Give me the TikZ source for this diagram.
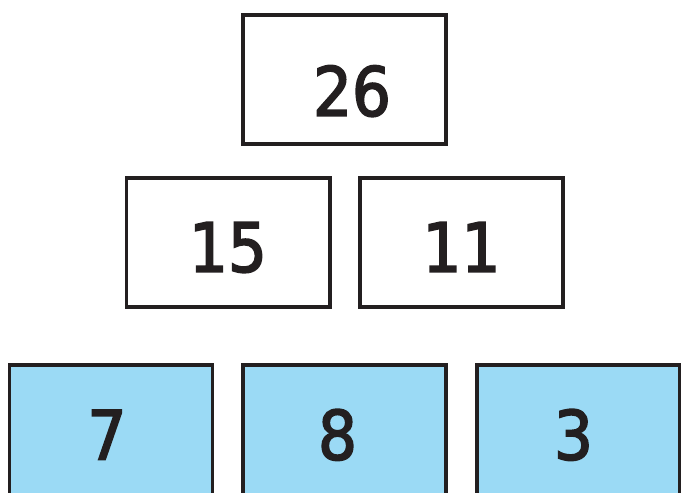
\documentclass[tikz,border=0pt]{standalone}
\usepackage{fontspec}
\setmainfont{DejaVu Sans}
\newfontfamily\digitfont{DejaVu Sans Condensed}[FakeBold=2.5]
\definecolor{boxline}{RGB}{35,31,32}
\definecolor{leafblue}{RGB}{155,218,245}

\begin{document}
\begin{tikzpicture}[
  x=0.03cm, y=-0.03cm,
  every node/.style={draw=boxline, rectangle, line width=3.4pt,
  minimum width=6.09cm, minimum height=3.87cm, inner sep=0pt,
  text=boxline, text height=50pt, text depth=0pt,
  font=\fontsize{58}{60}\digitfont},
  leaf/.style={fill=leafblue, minimum height=4.2cm, text height=42pt}
]
\clip (0,0) rectangle (681,492);
\node[text height=62pt] (root) at (344.5,79.5) {\hspace*{0.45cm}26};
\node (left) at (228,242.5) {15};
\node (right) at (461.5,242.5) {11};
\node[leaf] (leafa) at (111,435) {7\hspace*{0.24cm}};
\node[leaf] (leafb) at (344.5,435) {8\hspace*{0.42cm}};
\node[leaf] (leafc) at (578.5,435) {3\hspace*{0.3cm}};

\end{tikzpicture}
\end{document}
